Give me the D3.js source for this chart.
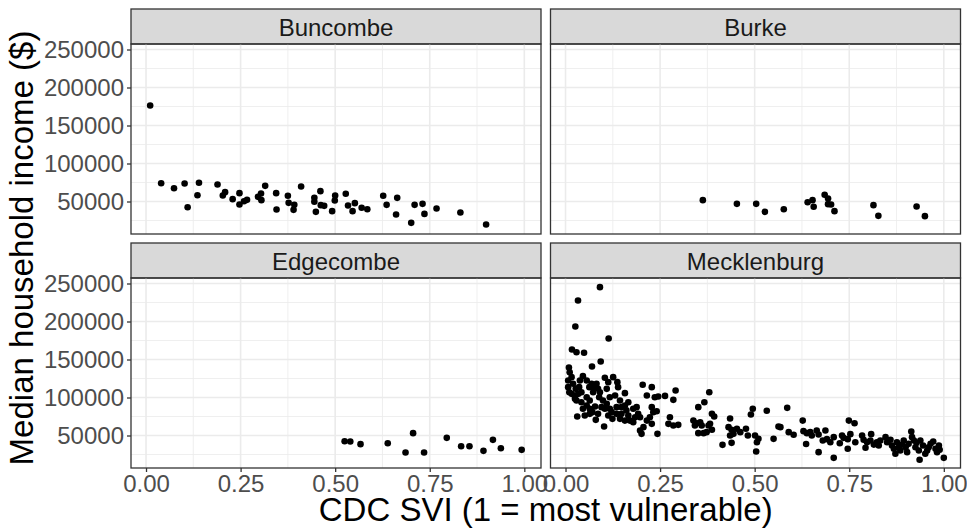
<!DOCTYPE html>
<html>
<head>
<meta charset="utf-8">
<script src="https://cdn.jsdelivr.net/npm/d3@7"></script>
<style>
  body { margin: 0; background: #fff; }
  svg { font-family: "Liberation Sans", Arial, sans-serif; }
</style>
</head>
<body>
<div id="chart"></div>
<script>
var svgWidth = 967;
var svgHeight = 531;

// data: SVI (x) and median household income (y) per tract
var counties = ["Buncombe", "Burke", "Edgecombe", "Mecklenburg"];

var buncombeSvi = [0.011, 0.040, 0.074, 0.102, 0.110, 0.136, 0.140, 0.189, 0.203, 0.209,
  0.229, 0.247, 0.247, 0.259, 0.267, 0.296, 0.304, 0.305, 0.315, 0.344,
  0.345, 0.375, 0.377, 0.392, 0.390, 0.410, 0.445, 0.445, 0.449, 0.461,
  0.462, 0.471, 0.492, 0.500, 0.499, 0.528, 0.534, 0.546, 0.552, 0.570,
  0.585, 0.627, 0.636, 0.661, 0.664, 0.701, 0.710, 0.731, 0.736, 0.768,
  0.831, 0.899];
var buncombeIncome = [176300, 74100, 67500, 73700, 42500, 58300, 74600, 72400, 57900, 62300,
  53100, 61000, 46000, 50400, 52200, 56100, 60500, 51800, 70600, 61000,
  39500, 57500, 48200, 45600, 39000, 69700, 54800, 49600, 36400, 63600,
  45200, 44300, 37300, 57900, 51300, 60100, 44700, 37300, 47800, 41700,
  39900, 57500, 45600, 32900, 54800, 21900, 45600, 46900, 33700, 40800,
  35500, 19700];

var burkeSvi = [0.363, 0.453, 0.504, 0.527, 0.577, 0.640, 0.653, 0.656, 0.685, 0.694,
  0.694, 0.702, 0.711, 0.814, 0.827, 0.928, 0.950];
var burkeIncome = [51750, 46900, 46900, 36400, 39900, 49100, 51750, 43000, 58800, 53900,
  46500, 46000, 37300, 45200, 31100, 43400, 30700];

var edgecombeSvi = [0.525, 0.540, 0.567, 0.639, 0.686, 0.706, 0.735, 0.795, 0.833, 0.855,
  0.892, 0.917, 0.938, 0.993];
var edgecombeIncome = [42500, 42100, 38600, 39900, 27600, 53100, 27600, 46900, 35900, 35900,
  29800, 44300, 33300, 31100];

var mecklenburgSvi = [0.091, 0.033, 0.026, 0.114, 0.017, 0.029, 0.049, 0.093, 0.070, 0.009,
  0.011, 0.016, 0.046, 0.007, 0.010, 0.020, 0.027, 0.025, 0.036, 0.042,
  0.056, 0.063, 0.069, 0.073, 0.082, 0.086, 0.089, 0.104, 0.113, 0.126,
  0.137, 0.139, 0.117, 0.131, 0.144, 0.157, 0.166, 0.029, 0.042, 0.046,
  0.056, 0.064, 0.071, 0.078, 0.095, 0.104, 0.109, 0.117, 0.122, 0.031,
  0.080, 0.102, 0.124, 0.135, 0.148, 0.144, 0.157, 0.166, 0.170, 0.179,
  0.188, 0.192, 0.184, 0.179, 0.197, 0.204, 0.215, 0.228, 0.236, 0.245,
  0.263, 0.285, 0.291, 0.228, 0.232, 0.241, 0.223, 0.215, 0.228, 0.206,
  0.197, 0.201, 0.243, 0.276, 0.272, 0.285, 0.298, 0.113, 0.051, 0.064,
  0.086, 0.025, 0.016, 0.034, 0.007, 0.038, 0.056, 0.064, 0.099, 0.091,
  0.073, 0.109, 0.148, 0.157, 0.135, 0.161,
  0.351, 0.367, 0.380, 0.387, 0.393, 0.338, 0.347, 0.342, 0.356, 0.360,
  0.351, 0.365, 0.373, 0.382, 0.387, 0.378, 0.415, 0.435, 0.431, 0.439,
  0.435, 0.444, 0.439, 0.453, 0.462, 0.477, 0.482, 0.490, 0.495, 0.501,
  0.510, 0.506, 0.504, 0.532, 0.550, 0.568, 0.563, 0.586, 0.590, 0.603,
  0.627, 0.629, 0.638, 0.647, 0.636, 0.651, 0.664, 0.669, 0.669, 0.680,
  0.687, 0.700, 0.709, 0.709, 0.725, 0.731, 0.735, 0.746, 0.749, 0.764,
  0.753, 0.746, 0.784, 0.788, 0.793, 0.797, 0.806, 0.808, 0.823, 0.828,
  0.846, 0.850, 0.859, 0.863, 0.868, 0.872, 0.876, 0.881, 0.885, 0.890,
  0.894, 0.899, 0.903, 0.907, 0.914, 0.916, 0.921, 0.925, 0.928, 0.934,
  0.936, 0.938, 0.945, 0.951, 0.956, 0.960, 0.965, 0.972, 0.978, 0.982,
  0.987, 0.989, 1.000, 0.766, 0.815, 0.832, 0.691];
var mecklenburgIncome = [245200, 227600, 193400, 177600, 163200, 159600, 158800, 147400, 140800, 139500,
  133300, 126800, 128100, 113600, 107000, 118000, 111400, 102600, 113600, 107000,
  122400, 113600, 118000, 107000, 118000, 111400, 100400, 125900, 120200, 126800,
  120200, 113600, 100400, 102600, 96000, 105700, 93800, 96000, 93800, 85100,
  89500, 85100, 80700, 88100, 87300, 85100, 91700, 85100, 80700, 75000,
  70600, 61800, 71900, 78500, 78500, 71900, 69600, 76300, 69600, 85100,
  87300, 78500, 74100, 67500, 74100, 116700, 102600, 113600, 100400, 101300,
  102100, 96900, 109200, 87300, 80700, 82000, 74100, 69600, 65300, 61000,
  56600, 52200, 52200, 74100, 65300, 63100, 64000, 76300, 76300, 78500,
  78500, 98200, 104800, 104800, 122400, 122400, 100400, 96000, 96000, 107000,
  113600, 111400, 87300, 89500, 87300, 83000,
  87300, 93800, 107000, 78500, 75000, 69600, 66200, 63100, 67500, 63100,
  53100, 53100, 54400, 65300, 57500, 63100, 37700, 72300, 61000, 57500,
  50000, 52200, 40300, 58800, 54400, 58800, 50000, 77600, 85100, 50000,
  45600, 41200, 28900, 82500, 45600, 61000, 61900, 86400, 54400, 50900,
  69600, 55700, 53100, 54400, 38900, 50000, 56600, 51300, 28100, 43400,
  56600, 41200, 47800, 20600, 39900, 50000, 46900, 32500, 69600, 66200,
  51800, 45200, 50000, 44400, 33800, 41200, 43400, 51800, 41200, 36800,
  47800, 41200, 44400, 36800, 32500, 25900, 41200, 34600, 30300, 38200,
  43400, 34600, 28100, 39000, 55300, 47800, 43400, 34600, 40300, 30300,
  18000, 43400, 36800, 25900, 30300, 34600, 39000, 42100, 32500, 28100,
  36800, 31200, 20600, 41200, 38000, 43400, 45200];

var sviSeries = [buncombeSvi, burkeSvi, edgecombeSvi, mecklenburgSvi];
var incomeSeries = [buncombeIncome, burkeIncome, edgecombeIncome, mecklenburgIncome];

var xTicks = [0, 0.25, 0.5, 0.75, 1];
var xMinor = [0.125, 0.375, 0.625, 0.875];
var yTicks = [50000, 100000, 150000, 200000, 250000];
var yMinor = [25000, 75000, 125000, 175000, 225000];

// facet layout
var panelW = 410, panelH = 190, stripH = 35;
var colX = [131, 550.5];
var rowY = [9, 243];

var svg = d3.select("#chart")
  .append("svg")
  .attr("width", svgWidth)
  .attr("height", svgHeight);

var xScale = d3.scaleLinear()
  .domain([-0.0397, 1.0441])
  .range([0, panelW]);

var yScale = d3.scaleLinear()
  .domain([7237, 257237])
  .range([panelH, 0]);

counties.forEach(function(name, i) {
  var col = i % 2, row = Math.floor(i / 2);
  var g = svg.append("g")
    .attr("transform", `translate(${colX[col]}, ${rowY[row]})`);

  // strip
  g.append("rect")
    .attr("width", panelW)
    .attr("height", stripH)
    .attr("fill", "#D9D9D9")
    .attr("stroke", "#333333")
    .attr("stroke-width", 1.3);
  g.append("text")
    .attr("x", panelW / 2)
    .attr("y", stripH / 2 + 1)
    .attr("text-anchor", "middle")
    .attr("dominant-baseline", "central")
    .attr("fill", "#1A1A1A")
    .style("font-size", "24px")
    .text(name);

  var p = g.append("g")
    .attr("transform", `translate(0, ${stripH})`);

  // grid
  p.selectAll(".xminor").data(xMinor).enter().append("line")
    .attr("x1", d => xScale(d)).attr("x2", d => xScale(d))
    .attr("y1", 0).attr("y2", panelH)
    .attr("stroke", "#EBEBEB").attr("stroke-width", 0.8);
  p.selectAll(".yminor").data(yMinor).enter().append("line")
    .attr("y1", d => yScale(d)).attr("y2", d => yScale(d))
    .attr("x1", 0).attr("x2", panelW)
    .attr("stroke", "#EBEBEB").attr("stroke-width", 0.8);
  p.selectAll(".xmajor").data(xTicks).enter().append("line")
    .attr("x1", d => xScale(d)).attr("x2", d => xScale(d))
    .attr("y1", 0).attr("y2", panelH)
    .attr("stroke", "#EBEBEB").attr("stroke-width", 1.6);
  p.selectAll(".ymajor").data(yTicks).enter().append("line")
    .attr("y1", d => yScale(d)).attr("y2", d => yScale(d))
    .attr("x1", 0).attr("x2", panelW)
    .attr("stroke", "#EBEBEB").attr("stroke-width", 1.6);

  // points
  p.selectAll("circle")
    .data(d3.range(sviSeries[i].length))
    .enter()
    .append("circle")
    .attr("cx", k => xScale(sviSeries[i][k]))
    .attr("cy", k => yScale(incomeSeries[i][k]))
    .attr("r", 3.3)
    .attr("fill", "black");

  p.append("rect")
    .attr("width", panelW)
    .attr("height", panelH)
    .attr("fill", "none")
    .attr("stroke", "#333333")
    .attr("stroke-width", 1.3);

  // axes on the outer panels only
  if (row === 1) {
    var xa = p.append("g")
      .attr("transform", `translate(0, ${panelH})`)
      .call(d3.axisBottom(xScale).tickValues(xTicks).tickFormat(d3.format(".2f")).tickSize(4).tickPadding(3));
    styleAxis(xa);
  }
  if (col === 0) {
    var ya = p.append("g")
      .call(d3.axisLeft(yScale).tickValues(yTicks).tickFormat(d3.format("d")).tickSize(4).tickPadding(3));
    styleAxis(ya);
  }
});

function styleAxis(a) {
  a.select(".domain").remove();
  a.selectAll(".tick line").attr("stroke", "#333333").attr("stroke-width", 1.3);
  a.selectAll(".tick text")
    .attr("fill", "#4D4D4D")
    .style("font-size", "24px")
    .style("font-family", "'Liberation Sans', Arial, sans-serif");
}

// axis titles
svg.append("text")
  .attr("x", (colX[0] + colX[1] + panelW) / 2)
  .attr("y", 521)
  .attr("text-anchor", "middle")
  .style("font-size", "33px")
  .text("CDC SVI (1 = most vulnerable)");

svg.append("text")
  .attr("transform", "translate(33, 248) rotate(-90)")
  .attr("text-anchor", "middle")
  .style("font-size", "33px")
  .text("Median household income ($)");
</script>
</body>
</html>
